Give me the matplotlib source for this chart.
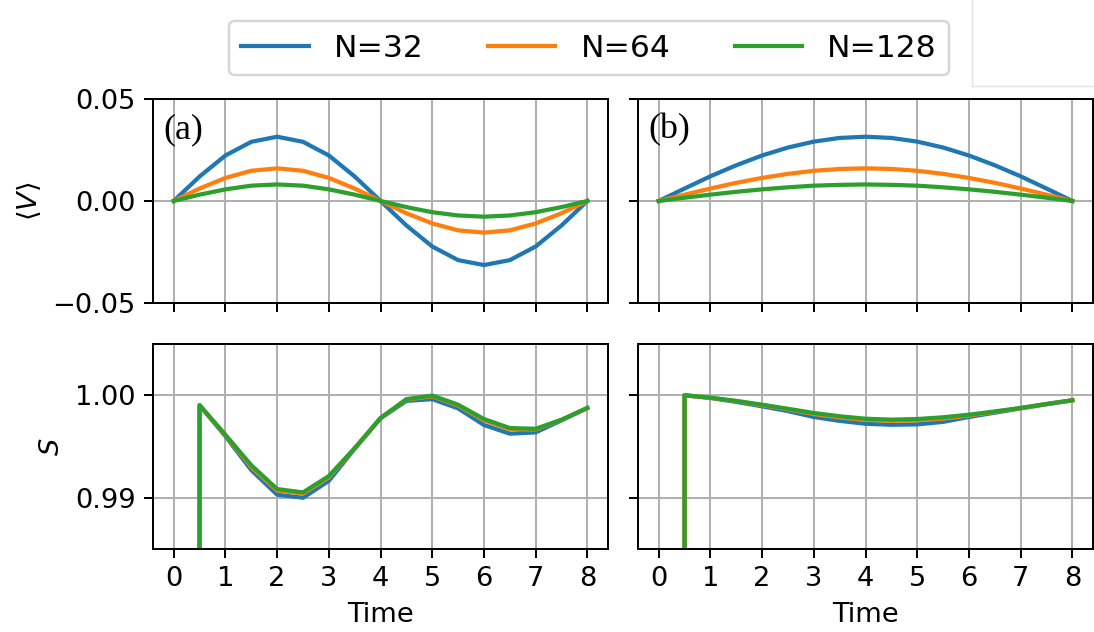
import matplotlib
matplotlib.use("Agg")
import matplotlib.pyplot as plt
from matplotlib.lines import Line2D

# data waktu untuk panel atas (langkah 0.5)
waktu = [0.0, 0.5, 1.0, 1.5, 2.0, 2.5, 3.0, 3.5, 4.0,
         4.5, 5.0, 5.5, 6.0, 6.5, 7.0, 7.5, 8.0]
# data waktu untuk panel bawah (mulai dari 0.5, titik pertama dobel -> garis tegak)
waktu_s = [0.5, 0.5, 1.0, 1.5, 2.0, 2.5, 3.0, 3.5, 4.0,
           4.5, 5.0, 5.5, 6.0, 6.5, 7.0, 7.5, 8.0]

label_n = ["N=32", "N=64", "N=128"]

# panel (a): <V>
v_a_32 = [0.0, 0.0120, 0.0223, 0.0290, 0.0315, 0.0290, 0.0223, 0.0120, 0.0,
          -0.0120, -0.0223, -0.0290, -0.0314, -0.0290, -0.0223, -0.0120, 0.0]
v_a_64 = [0.0, 0.0061, 0.0113, 0.0148, 0.0160, 0.0148, 0.0113, 0.0061, 0.0,
          -0.0060, -0.0110, -0.0144, -0.0155, -0.0144, -0.0110, -0.0060, 0.0]
v_a_128 = [0.0, 0.0031, 0.0057, 0.0075, 0.0081, 0.0075, 0.0057, 0.0031, 0.0,
           -0.0030, -0.0055, -0.0071, -0.0077, -0.0071, -0.0055, -0.0030, 0.0]

# panel (b): <V>
v_b_32 = [0.0, 0.0061, 0.0121, 0.0175, 0.0223, 0.0262, 0.0291, 0.0309, 0.0315,
          0.0309, 0.0291, 0.0262, 0.0223, 0.0175, 0.0121, 0.0061, 0.0]
v_b_64 = [0.0, 0.0031, 0.0061, 0.0089, 0.0113, 0.0133, 0.0148, 0.0157, 0.0160,
          0.0157, 0.0148, 0.0133, 0.0113, 0.0089, 0.0061, 0.0031, 0.0]
v_b_128 = [0.0, 0.0016, 0.0031, 0.0045, 0.0057, 0.0067, 0.0075, 0.0079, 0.0081,
           0.0079, 0.0075, 0.0067, 0.0057, 0.0045, 0.0031, 0.0016, 0.0]

# panel (a) bawah: S
s_a_32 = [0.0, 0.99902, 0.99600, 0.99270, 0.99030, 0.99000, 0.99165, 0.99478, 0.99775,
          0.99945, 0.99962, 0.99872, 0.99710, 0.99625, 0.99638, 0.99755, 0.99876]
s_a_64 = [0.0, 0.99902, 0.99608, 0.99300, 0.99070, 0.99040, 0.99200, 0.99482, 0.99777,
          0.99958, 0.99990, 0.99900, 0.99755, 0.99668, 0.99666, 0.99760, 0.99876]
s_a_128 = [0.0, 0.99903, 0.99614, 0.99317, 0.99085, 0.99052, 0.99212, 0.99484, 0.99778,
           0.99962, 0.99997, 0.99908, 0.99768, 0.99680, 0.99673, 0.99761, 0.99876]

# panel (b) bawah: S
s_b_32 = [0.0, 1.0, 0.99974, 0.99935, 0.99892, 0.99845, 0.99788, 0.99750, 0.99722,
          0.99712, 0.99716, 0.99740, 0.99788, 0.99830, 0.99872, 0.99912, 0.99951]
s_b_64 = [0.0, 1.0, 0.99975, 0.99942, 0.99903, 0.99862, 0.99817, 0.99783, 0.99760,
          0.99750, 0.99755, 0.99772, 0.99802, 0.99838, 0.99875, 0.99914, 0.99951]
s_b_128 = [0.0, 1.0, 0.99976, 0.99945, 0.99908, 0.99868, 0.99827, 0.99795, 0.99771,
           0.99762, 0.99768, 0.99785, 0.99810, 0.99842, 0.99876, 0.99915, 0.99951]

dpi = 178
plt.rcParams["font.size"] = 11
plt.rcParams["lines.linewidth"] = 1.7
fig = plt.figure(figsize=(1094 / dpi, 632 / dpi), dpi=dpi)

# posisi sumbu (pecahan figur)
ax_va = fig.add_axes([0.1399, 0.5206, 0.4159, 0.3228])
ax_vb = fig.add_axes([0.5832, 0.5206, 0.4159, 0.3228], sharex=ax_va, sharey=ax_va)
ax_sa = fig.add_axes([0.1399, 0.1313, 0.4159, 0.3244], sharex=ax_va)
ax_sb = fig.add_axes([0.5832, 0.1313, 0.4159, 0.3244], sharex=ax_va, sharey=ax_sa)

for y, lab in zip([v_a_32, v_a_64, v_a_128], label_n):
    ax_va.plot(waktu, y, label=lab)
for y in [v_b_32, v_b_64, v_b_128]:
    ax_vb.plot(waktu, y)
for y in [s_a_32, s_a_64, s_a_128]:
    ax_sa.plot(waktu_s, y)
for y in [s_b_32, s_b_64, s_b_128]:
    ax_sb.plot(waktu_s, y)

for ax in [ax_va, ax_vb, ax_sa, ax_sb]:
    ax.grid(True)
    ax.set_xlim(-0.4, 8.4)
    ax.set_xticks(range(9))

ax_va.set_ylim(-0.05, 0.05)
ax_va.set_yticks([-0.05, 0.0, 0.05])
ax_sa.set_ylim(0.985, 1.005)
ax_sa.set_yticks([0.99, 1.00])

ax_va.tick_params(labelbottom=False)
ax_vb.tick_params(labelbottom=False, labelleft=False)
ax_sb.tick_params(labelleft=False)

ax_va.set_ylabel(r"$\langle V\rangle$")
ax_sa.set_ylabel(r"$S$")
ax_sa.set_xlabel("Time")
ax_sb.set_xlabel("Time")

# label panel
ax_va.text(0.022, 0.93, "(a)", transform=ax_va.transAxes, va="top",
           fontsize=14.5, family="Liberation Serif")
ax_vb.text(0.022, 0.93, "(b)", transform=ax_vb.transAxes, va="top",
           fontsize=14.5, family="Liberation Serif")

# legenda di atas
fig.legend(loc="upper center", bbox_to_anchor=(589 / 1094, 1 - 21 / 632),
           ncol=3, fontsize=12.7, borderaxespad=0, handlelength=2.15,
           columnspacing=2.05)

# garis tipis abu-abu di pojok kanan atas
fig.add_artist(Line2D([972 / 1094, 972 / 1094], [1.0, 1 - 86 / 632],
                      transform=fig.transFigure, color="#e6e6e6", lw=0.6))
fig.add_artist(Line2D([972 / 1094, 1.0], [1 - 86 / 632, 1 - 86 / 632],
                      transform=fig.transFigure, color="#e6e6e6", lw=0.6))

plt.savefig("out.png", dpi=dpi)
